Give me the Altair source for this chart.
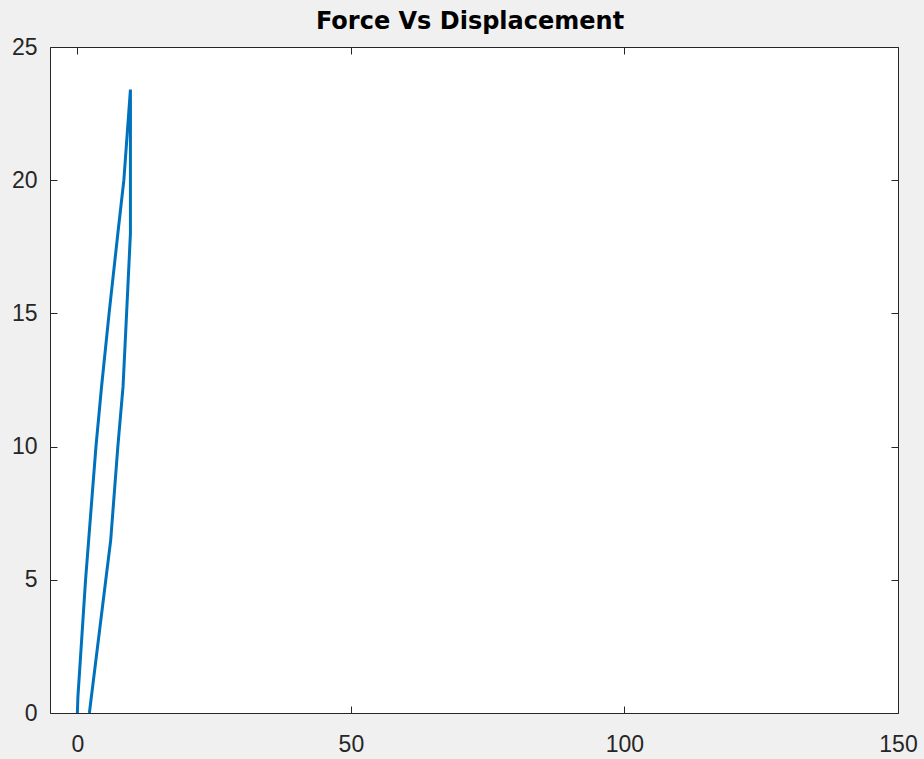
import altair as alt
import pandas as pd

# Loading path (left branch), then drop at peak and unloading (right branch)
displacement = [0.0, 0.1, 1.5, 3.4, 4.4, 5.8, 7.4, 8.5, 9.7, 9.7, 9.0, 8.35, 7.4, 6.1, 5.2, 2.2]
force = [0.0, 0.6, 5.0, 10.0, 12.2, 15.0, 18.0, 20.0, 23.4, 18.0, 15.0, 12.25, 10.0, 6.5, 5.0, 0.0]
x_ticks = [0, 50, 100, 150]
y_ticks = [0, 5, 10, 15, 20, 25]
title_text = ["Force Vs Displacement"]

df = pd.DataFrame({"d": displacement, "f": force, "i": list(range(len(displacement)))})

W, H = 848, 666
TICK = 7
FONT = "Liberation Sans"
AX = "#262626"

xs = alt.Scale(domain=[-5, 150], nice=False, zero=False)
ys = alt.Scale(domain=[0, 25], nice=False, zero=False)

common = dict(grid=False, domain=False, tickColor=AX, tickWidth=1, tickSize=TICK,
              labelFont=FONT, labelFontSize=23, labelColor=AX, title=None)

line = alt.Chart(df).mark_line(color="#0072BD", strokeWidth=3, clip=True).encode(
    x=alt.X("d:Q", scale=xs,
            axis=alt.Axis(orient="bottom", offset=-H, values=x_ticks,
                          labelPadding=H + 20 - TICK, labelBaseline="top",
                          labelFlush=False, labelOverlap=False, **common)),
    y=alt.Y("f:Q", scale=ys,
            axis=alt.Axis(orient="left", offset=-W, values=y_ticks,
                          labelPadding=W + 13 - TICK, labelAlign="right",
                          labelBaseline="middle", labelFlush=False,
                          labelOverlap=False, **common)),
    order="i:Q",
)

ticks2 = alt.Chart(df).mark_line(opacity=0).encode(
    x=alt.X("d:Q", scale=xs,
            axis=alt.Axis(orient="top", offset=-H, values=x_ticks, labels=False, **common)),
    y=alt.Y("f:Q", scale=ys,
            axis=alt.Axis(orient="right", offset=-W, values=y_ticks, labels=False, **common)),
    order="i:Q",
)

title = alt.Chart(pd.DataFrame({"t": title_text})).mark_text(
    font="DejaVu Sans", fontSize=24, fontWeight="bold", color="#000000",
    align="center", baseline="alphabetic", clip=False,
).encode(text="t:N", x=alt.value(W / 2 - 4), y=alt.value(-18.5))

chart = (
    alt.layer(line, ticks2, title)
    .resolve_scale(x="shared", y="shared")
    .resolve_axis(x="independent", y="independent")
    .properties(
        width=W,
        height=H,
        autosize=alt.AutoSizeParams(type="none"),
        padding={"left": 50, "top": 47, "right": 26, "bottom": 46},
        background="#f0f0f0",
    )
    .configure_view(stroke=AX, strokeWidth=1, fill="white")
)

chart.save("out.html", embed_options={"renderer": "svg", "actions": False})
